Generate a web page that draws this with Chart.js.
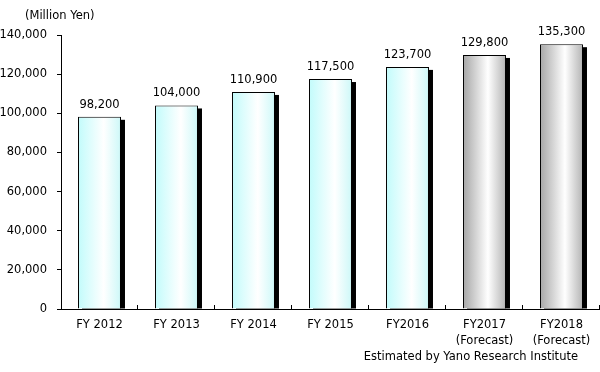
<!DOCTYPE html>
<html>
<head>
<meta charset="utf-8">
<script src="https://cdn.jsdelivr.net/npm/chart.js@4.4.0/dist/chart.umd.min.js"></script>
<style>
html,body{margin:0;padding:0;background:#fff;}
#wrap{width:600px;height:372px;position:relative;}
</style>
</head>
<body>
<div id="wrap"><canvas id="c" width="600" height="372"></canvas></div>
<script>
const categories = [
  ['FY 2012'], ['FY 2013'], ['FY 2014'], ['FY 2015'], ['FY2016'],
  ['FY2017', '(Forecast)'], ['FY2018', '(Forecast)']
];
const marketSize = [98200, 104000, 110900, 117500, 123700, 129800, 135300];
const isForecast = [false, false, false, false, false, true, true];
const yTicks = [0, 20000, 40000, 60000, 80000, 100000, 120000, 140000];
const unitLabel = '(Million Yen)';
const sourceLabel = 'Estimated by Yano Research Institute';

const FONT = 'DejaVu Sans';
const FS = 11.5;
const fmt = v => v.toLocaleString('en-US');

function barGradient(ctx) {
  const chart = ctx.chart;
  if (!chart.chartArea || !chart.scales.x) return '#ccffff';
  const xs = chart.scales.x;
  const step = xs.getPixelForValue(1) - xs.getPixelForValue(0);
  const w = step * 0.558;
  const cx = xs.getPixelForValue(ctx.dataIndex);
  const g = chart.ctx.createLinearGradient(cx - w / 2, 0, cx + w / 2, 0);
  if (isForecast[ctx.dataIndex]) {
    g.addColorStop(0, '#a6a6a6');
    g.addColorStop(0.58, '#ffffff');
    g.addColorStop(1, '#b4b4b4');
  } else {
    g.addColorStop(0, '#c2fbfb');
    g.addColorStop(0.6, '#ffffff');
    g.addColorStop(1, '#cdf8f8');
  }
  return g;
}

const decor = {
  id: 'decor',
  beforeDatasetsDraw(chart) {
    const c = chart.ctx;
    const meta = chart.getDatasetMeta(0);
    c.save();
    c.fillStyle = '#000';
    meta.data.forEach(el => {
      const left = el.x - el.width / 2;
      const right = el.x + el.width / 2;
      c.fillRect(left + 4, el.y + 3, right - left, el.base - el.y - 3);
    });
    c.restore();
  },
  afterDatasetsDraw(chart) {
    const c = chart.ctx;
    const meta = chart.getDatasetMeta(0);
    const xs = chart.scales.x;
    const area = chart.chartArea;
    c.save();
    c.fillStyle = '#000';
    c.font = FS + 'px "' + FONT + '"';
    c.textAlign = 'center';
    c.textBaseline = 'middle';
    meta.data.forEach((el, i) => {
      c.fillText(fmt(marketSize[i]), el.x, el.y - 12);
    });
    // category boundary tick marks
    const step = xs.getPixelForValue(1) - xs.getPixelForValue(0);
    c.strokeStyle = '#000';
    c.lineWidth = 1;
    c.beginPath();
    for (let i = 0; i < categories.length; i++) {
      const bx = Math.round(xs.getPixelForValue(i) + step / 2) - 0.5;
      c.moveTo(bx, area.bottom);
      c.lineTo(bx, area.bottom - 4);
    }
    c.stroke();
    // unit label
    c.textAlign = 'left';
    c.fillText(unitLabel, 25, 16);
    // source
    c.textAlign = 'right';
    c.fillText(sourceLabel, 578, 357);
    c.restore();
  }
};

new Chart(document.getElementById('c'), {
  type: 'bar',
  data: {
    labels: categories,
    datasets: [{
      data: marketSize,
      backgroundColor: barGradient,
      borderColor: '#000',
      borderWidth: 1,
      borderSkipped: 'bottom',
      barPercentage: 0.558,
      categoryPercentage: 1.0
    }]
  },
  options: {
    responsive: false,
    animation: false,
    devicePixelRatio: 1,
    layout: { padding: { top: 35, left: 0, right: 0, bottom: 0 } },
    plugins: {
      legend: { display: false },
      tooltip: { enabled: false },
      title: { display: false }
    },
    scales: {
      x: {
        grid: { display: false, drawTicks: false },
        border: { display: true, color: '#000', width: 1 },
        ticks: {
          color: '#000',
          font: { family: FONT, size: FS, lineHeight: 16 / FS },
          padding: 8,
          maxRotation: 0,
          autoSkip: false
        },
        afterFit(scale) { scale.height = 63; }
      },
      y: {
        min: 0,
        max: 140000,
        afterBuildTicks(scale) { scale.ticks = yTicks.map(v => ({ value: v })); },
        grid: { drawOnChartArea: false, drawTicks: true, tickLength: 4, color: '#000' },
        border: { display: true, color: '#000', width: 1 },
        ticks: {
          color: '#000',
          font: { family: FONT, size: FS },
          padding: 10,
          callback: v => fmt(v)
        },
        afterFit(scale) { scale.width = 61; }
      }
    }
  },
  plugins: [decor]
});
</script>
</body>
</html>
